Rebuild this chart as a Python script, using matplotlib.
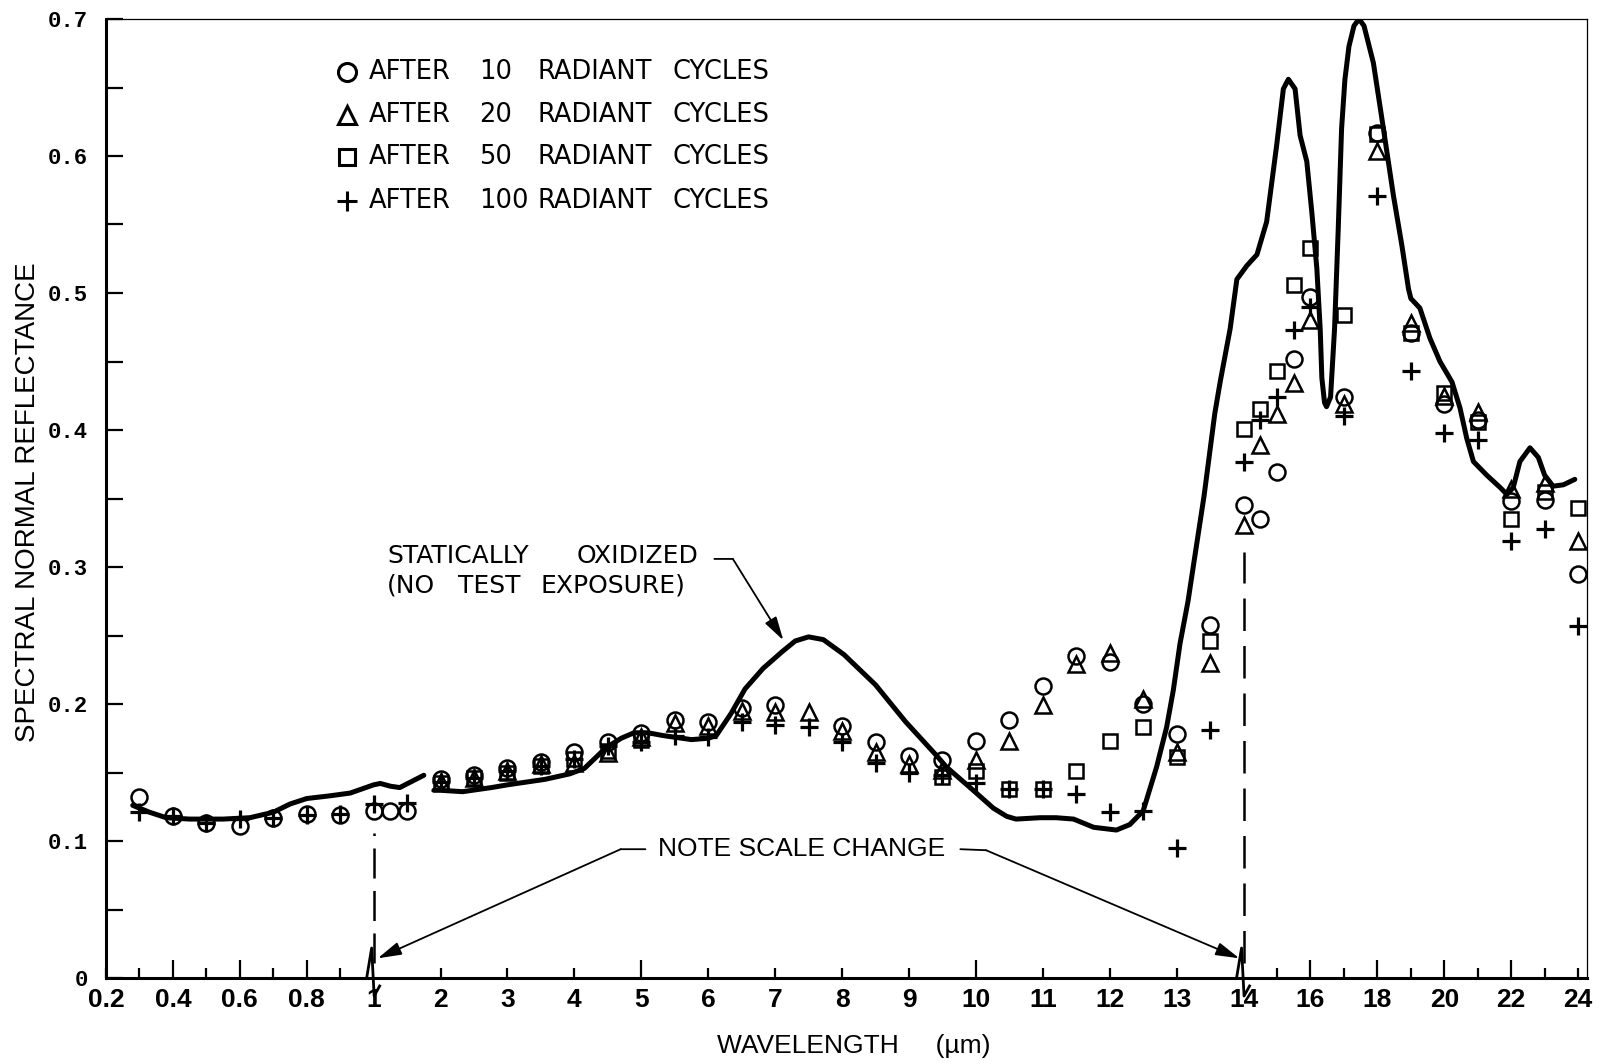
import matplotlib

matplotlib.use("Agg")
import matplotlib.pyplot as plt
import numpy as np
from matplotlib import font_manager
from matplotlib.transforms import IdentityTransform

nan = np.nan

# wavelengths (um) at which the cycled samples were measured
WAVELENGTH = [0.3, 0.4, 0.5, 0.6, 0.7, 0.8, 0.9, 1.0, 1.25, 1.5,
              2, 2.5, 3, 3.5, 4, 4.5, 5, 5.5, 6, 6.5, 7, 7.5, 8, 8.5, 9, 9.5,
              10, 10.5, 11, 11.5, 12, 12.5, 13, 13.5,
              14, 14.5, 15, 15.5, 16, 17, 18, 19, 20, 21, 22, 23, 24]

CYCLES_10 = [.132, .118, .113, .111, .117, .120, .119, .122, .122, .122,
             .145, .148, .153, .158, .165, .172, .179, .188, .187, .197, .199, nan, .184, .172, .162, .159,
             .173, .188, .213, .235, .231, .200, .178, .258,
             .345, .335, .369, .452, .497, .424, .617, .471, .419, .407, .348, .349, .295]
CYCLES_20 = [nan, nan, nan, nan, nan, nan, nan, nan, nan, nan,
             .143, .146, .151, .156, .157, .164, .176, .186, .184, .195, .194, .194, .180, .165, .156, .152,
             .159, .173, .199, .229, .237, .204, .165, .230,
             .331, .389, .412, .434, .480, .419, .604, .478, .425, .413, .357, .361, .319]
CYCLES_50 = [nan, nan, nan, nan, nan, nan, nan, nan, nan, nan,
             .142, .146, .150, .155, .160, .166, .174, nan, nan, nan, nan, nan, nan, nan, nan, .147,
             .151, .138, .138, .151, .173, .183, .161, .246,
             .401, .415, .443, .506, .533, .484, .616, .471, .427, .406, .335, .355, .343]
CYCLES_100 = [.121, .118, .113, .116, .117, .119, .120, .127, nan, .128,
              .143, .146, .151, .155, .160, .169, .172, .177, .176, .187, .185, .183, .172, .157, .150, .148,
              .142, .138, .138, .134, .121, .122, .095, .181,
              .377, .407, .424, .473, .490, .410, .571, .443, .398, .393, .319, .328, .257]

# statically oxidized reference curve, drawn in two pieces (gap near 1.8 um)
STATIC_WL_A = [0.28, 0.33, 0.38, 0.45, 0.55, 0.63, 0.70, 0.75, 0.80, 0.87, 0.93, 1.0,
               1.1, 1.25, 1.39, 1.55, 1.75]
STATIC_R_A = [.126, .121, .117, .116, .116, .117, .121, .127, .131, .133, .135, .141,
              .142, .140, .139, .143, .148]
STATIC_WL_B = [1.9, 2.0, 2.33, 2.76, 3.0, 3.56, 3.93, 4.15, 4.47, 4.7, 4.89, 5.1, 5.32, 5.75,
               6.0, 6.12, 6.34, 6.55, 6.82, 7.1, 7.3, 7.5, 7.72, 8.03, 8.5, 8.95, 9.4, 9.56,
               9.96, 10.26, 10.46, 10.6, 10.96, 11.2, 11.46, 11.76, 12.1, 12.3, 12.5, 12.7,
               12.85, 12.95, 13.05, 13.17, 13.26, 13.41, 13.57, 13.65, 13.8, 13.9, 14.1, 14.4,
               14.69, 14.99, 15.19, 15.34, 15.54, 15.69, 15.89, 16.04, 16.19, 16.29, 16.34,
               16.42, 16.48, 16.6, 16.72, 16.83, 16.93, 17.03, 17.15, 17.3, 17.45, 17.6, 17.88,
               18.18, 18.48, 18.73, 18.93, 19.0, 19.27, 19.57, 19.87, 20.23, 20.47, 20.67,
               20.87, 21.27, 21.67, 21.87, 22.06, 22.26, 22.56, 22.81, 23.0, 23.25, 23.56, 23.9]
STATIC_R_B = [.137, .137, .136, .139, .141, .145, .149, .153, .168, .175, .179, .179, .177, .174,
              .175, .177, .193, .211, .226, .238, .246, .249, .247, .236, .214, .187, .163, .154,
              .137, .124, .118, .116, .117, .117, .116, .110, .108, .112, .122, .154,
              .183, .210, .244, .275, .304, .352, .412, .435, .474, .510, .520, .528,
              .552, .608, .649, .656, .649, .615, .596, .559, .518, .474, .438,
              .420, .417, .424, .474, .547, .620, .656, .680, .695, .700, .695, .668,
              .620, .571, .535, .503, .496, .489, .467, .450, .435, .416, .394,
              .377, .367, .358, .353, .358, .377, .387, .380, .367, .359, .360, .364]

LEGEND_CYCLES = ["10", "20", "50", "100"]
LEGEND_MARKERS = ["o", "^", "s", "+"]

X_TICKS = [0.2, 0.4, 0.6, 0.8, 1, 2, 3, 4, 5, 6, 7, 8, 9, 10, 11, 12, 13, 14, 16, 18, 20, 22, 24]
X_TICK_LABELS = ["0.2", "0.4", "0.6", "0.8", "1", "2", "3", "4", "5", "6", "7", "8", "9", "10",
                 "11", "12", "13", "14", "16", "18", "20", "22", "24"]
X_MINOR = [0.3, 0.5, 0.7, 0.9, 15, 17, 19, 21, 23]
X_TALL = [0.4, 0.6, 0.8, 5, 10, 16, 18, 20, 22]
SCALE_BREAKS = [1, 14]
Y_TICKS = [0, 0.1, 0.2, 0.3, 0.4, 0.5, 0.6, 0.7]
Y_TICK_LABELS = ["0", "0.1", "0.2", "0.3", "0.4", "0.5", "0.6", "0.7"]
Y_MINOR = [0.05, 0.15, 0.25, 0.35, 0.45, 0.55, 0.65]

# layout of the axes, in output pixels
W_PX, H_PX = 1614, 1064
AX_LEFT, AX_RIGHT, AX_TOP, AX_BOTTOM = 106, 1586.5, 19, 978
REF = 1614 / 1568  # positions below at 1568 px width


def ref_axes(x, y):
    """reference pixel position -> axes fraction"""
    return ((x * REF - AX_LEFT) / (AX_RIGHT - AX_LEFT),
            (AX_BOTTOM - y * REF) / (AX_BOTTOM - AX_TOP))


def fwd(x):
    # 0.2-1 um, 1-14 um and 14-24 um each get their own linear scale
    x = np.asarray(x, dtype=float)
    return np.where(x <= 1, (x - 0.2) / 0.2, np.where(x <= 14, 4 + (x - 1), 17 + (x - 14) / 2))


def inv(u):
    u = np.asarray(u, dtype=float)
    return np.where(u <= 4, 0.2 + 0.2 * u, np.where(u <= 17, u - 3, 14 + 2 * (u - 17)))


names = {f.name for f in font_manager.fontManager.ttflist}
NARROW = "Liberation Sans Narrow" if "Liberation Sans Narrow" in names else "Liberation Sans"

plt.rcParams.update({"font.family": ["DejaVu Sans"], "font.size": 16})

fig = plt.figure(figsize=(W_PX / 100, H_PX / 100), dpi=100)
fig.patch.set_facecolor("white")
ax = fig.add_axes([AX_LEFT / W_PX, 1 - AX_BOTTOM / H_PX,
                   (AX_RIGHT - AX_LEFT) / W_PX, (AX_BOTTOM - AX_TOP) / H_PX])
ax.set_xscale("function", functions=(fwd, inv))
ax.set_xlim(0.2, 24.25)
ax.set_ylim(0, 0.7)

# data
ax.plot(STATIC_WL_A, STATIC_R_A, color="black", lw=3.6, solid_joinstyle="round",
        solid_capstyle="round", zorder=3)
ax.plot(STATIC_WL_B, STATIC_R_B, color="black", lw=3.6, solid_joinstyle="round",
        solid_capstyle="round", zorder=3)

marker_kw = dict(ls="none", color="black", mfc="none", zorder=4)
ax.plot(WAVELENGTH, CYCLES_10, marker="o", ms=11.5, mew=1.8, **marker_kw)
ax.plot(WAVELENGTH, CYCLES_20, marker="^", ms=12, mew=1.8, **marker_kw)
ax.plot(WAVELENGTH, CYCLES_50, marker="s", ms=10.5, mew=1.8, **marker_kw)
ax.plot(WAVELENGTH, CYCLES_100, marker="+", ms=12.5, mew=2.3, **marker_kw)

# dashed lines at the scale changes
ax.vlines(SCALE_BREAKS[0], 0.011, 0.106, color="black", lw=1.8, linestyles=(0, (12, 5)))
ax.vlines(SCALE_BREAKS[1], 0.011, 0.311, color="black", lw=1.8, linestyles=(0, (13, 6)))

# axes frame
for side in ["left", "bottom"]:
    ax.spines[side].set_linewidth(2.2)
for side in ["top", "right"]:
    ax.spines[side].set_linewidth(0.9)

ax.set_xticks(X_TICKS, X_TICK_LABELS)
ax.set_xticks(X_MINOR, minor=True)
ax.set_yticks(Y_TICKS, Y_TICK_LABELS)
ax.set_yticks(Y_MINOR, minor=True)
ax.tick_params(axis="x", which="both", direction="in", length=7, width=1.6, pad=7, top=False)
ax.tick_params(axis="y", which="both", direction="in", length=12.5, width=1.6, pad=13, right=False)
for lab in ax.get_xticklabels():
    lab.set_fontfamily(NARROW)
    lab.set_fontweight("bold")
    lab.set_fontsize(19)
for lab in ax.get_yticklabels():
    lab.set_fontfamily("Liberation Mono")
    lab.set_fontweight("bold")
    lab.set_fontsize(16)
for tick, loc in zip(ax.xaxis.get_major_ticks(), X_TICKS):
    if loc in X_TALL:
        tick.tick1line.set_markersize(13)
    if loc in SCALE_BREAKS:
        tick.tick1line.set_visible(False)

# little kinks drawn into the bottom axis at each scale change
for loc in SCALE_BREAKS:
    bx, by = ax.transData.transform((loc, 0.0))
    dx = np.array([-7, -2, 0.5, 6])
    dy = np.array([0, 30, -18, -8])
    ax.plot(bx + dx, by + dy, color="black", lw=2.0, transform=IdentityTransform(),
            clip_on=False, zorder=5)

ax.set_ylabel("SPECTRAL NORMAL REFLECTANCE", fontfamily="Liberation Sans", fontsize=20)
ax.yaxis.set_label_coords(*ref_axes(27, 488))
ax.yaxis.label.set_va("center")
ax.set_xlabel("WAVELENGTH     (\u00b5m)", fontfamily="Liberation Sans", fontsize=19)
ax.xaxis.set_label_coords(*ref_axes(829, 1016))
ax.xaxis.label.set_va("center")

# legend, typed into the plot with tabulated columns
legend_rows = [70, 112, 153, 195]
for y, cyc, mk in zip(legend_rows, LEGEND_CYCLES, LEGEND_MARKERS):
    ms = {"o": 13, "^": 13, "s": 11.5, "+": 14}[mk]
    ax.plot(*ref_axes(337, y), marker=mk, ms=ms, mew=2.2, mfc="none", color="black",
            transform=ax.transAxes, clip_on=False)
    for word, x in [("AFTER", 358), (cyc, 465), ("RADIANT", 522), ("CYCLES", 653)]:
        ax.text(*ref_axes(x, y), word, transform=ax.transAxes, ha="left", va="center",
                fontsize=18.5)

# annotation for the reference curve
for word, x, y in [("STATICALLY", 376, 540), ("OXIDIZED", 560, 540),
                   ("(NO", 376, 569), ("TEST", 445, 569), ("EXPOSURE)", 525, 569)]:
    ax.text(*ref_axes(x, y), word, transform=ax.transAxes, ha="left", va="center", fontsize=18)
ax.annotate("", xy=ref_axes(712, 543), xytext=ref_axes(694, 543), xycoords="axes fraction",
            arrowprops=dict(arrowstyle="-", lw=1.3, color="black", shrinkA=0, shrinkB=0))
ax.annotate("", xy=ref_axes(761, 622), xytext=ref_axes(712, 543), xycoords="axes fraction",
            arrowprops=dict(arrowstyle="-|>,head_length=0.9,head_width=0.25", lw=1.3,
                            color="black", shrinkA=0, shrinkB=0))

# note about the scale change
ax.text(*ref_axes(779, 825), "NOTE SCALE CHANGE", transform=ax.transAxes, ha="center",
        va="center", fontfamily="Liberation Sans", fontsize=19)
ax.annotate("", xy=ref_axes(603, 825), xytext=ref_axes(627, 825), xycoords="axes fraction",
            arrowprops=dict(arrowstyle="-", lw=1.3, color="black", shrinkA=0, shrinkB=0))
ax.annotate("", xy=ref_axes(367, 931), xytext=ref_axes(603, 825), xycoords="axes fraction",
            arrowprops=dict(arrowstyle="-|>,head_length=0.9,head_width=0.25", lw=1.3,
                            color="black", shrinkA=0, shrinkB=0))
ax.annotate("", xy=ref_axes(958, 826), xytext=ref_axes(933, 825), xycoords="axes fraction",
            arrowprops=dict(arrowstyle="-", lw=1.3, color="black", shrinkA=0, shrinkB=0))
ax.annotate("", xy=ref_axes(1204, 931), xytext=ref_axes(958, 826), xycoords="axes fraction",
            arrowprops=dict(arrowstyle="-|>,head_length=0.9,head_width=0.25", lw=1.3,
                            color="black", shrinkA=0, shrinkB=0))

fig.savefig("out.png", dpi=100, facecolor="white")
plt.close(fig)
